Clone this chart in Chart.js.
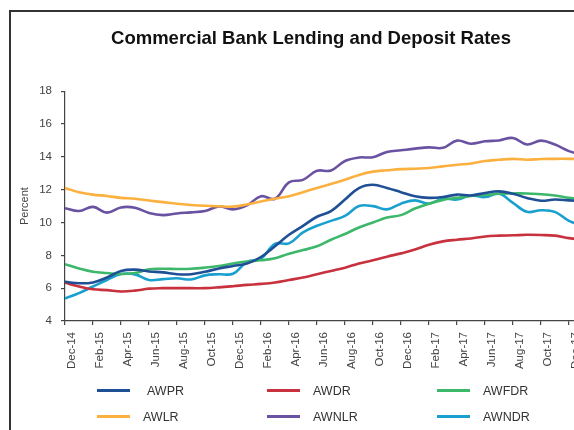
<!DOCTYPE html>
<html>
<head>
<meta charset="utf-8">
<title>Commercial Bank Lending and Deposit Rates</title>
<script src="https://cdn.jsdelivr.net/npm/chart.js@4.4.1/dist/chart.umd.min.js"></script>
<style>
    html, body {
        margin: 0;
        padding: 0;
        background: #fff;
        overflow: hidden;
    }
    .wrap {
        position: relative;
        width: 574px;
        height: 430px;
        overflow: hidden;
    }
    .frame {
        position: absolute;
        left: 9px;
        top: 10px;
        width: 700px;
        height: 500px;
        border-left: 2px solid #333;
        border-top: 2px solid #333;
    }
    #myChart {
        position: absolute;
        left: 0;
        top: 0;
    }
    .leyenda {
        position: absolute;
        font-family: "Liberation Sans", Arial, sans-serif;
        font-size: 12.5px;
        color: #333;
    }
    .leyenda .item {
        position: absolute;
        height: 16px;
        line-height: 16px;
        white-space: nowrap;
    }
    .leyenda .linea {
        position: absolute;
        top: 6px;
        width: 33px;
        height: 3px;
    }
    .leyenda .texto {
        position: absolute;
        top: 0;
    }
</style>
</head>
<body>
<div class="wrap">
    <div class="frame"></div>
    <canvas id="myChart" width="618" height="430"></canvas>
    <div class="leyenda" id="leyenda"></div>
</div>

<script>
/*========== datos ==========*/
var meses = ['Dec-14', 'Jan-15', 'Feb-15', 'Mar-15', 'Apr-15', 'May-15', 'Jun-15', 'Jul-15', 'Aug-15', 'Sep-15', 'Oct-15', 'Nov-15',
    'Dec-15', 'Jan-16', 'Feb-16', 'Mar-16', 'Apr-16', 'May-16', 'Jun-16', 'Jul-16', 'Aug-16', 'Sep-16', 'Oct-16', 'Nov-16',
    'Dec-16', 'Jan-17', 'Feb-17', 'Mar-17', 'Apr-17', 'May-17', 'Jun-17', 'Jul-17', 'Aug-17', 'Sep-17', 'Oct-17', 'Nov-17',
    'Dec-17', 'Jan-18'];

var awpr = [6.39, 6.30, 6.35, 6.65, 7.05, 7.13, 7.02, 6.96, 6.85, 6.85, 7.00, 7.20,
    7.35, 7.50, 7.90, 8.55, 9.25, 9.80, 10.35, 10.70, 11.40, 12.10, 12.30, 12.10,
    11.85, 11.60, 11.50, 11.55, 11.70, 11.65, 11.80, 11.90, 11.75, 11.50, 11.33, 11.40,
    11.35, 11.30];

var awdr = [6.33, 6.10, 5.93, 5.88, 5.80, 5.85, 5.97, 6.00, 6.00, 6.00, 6.00, 6.05,
    6.12, 6.20, 6.26, 6.35, 6.50, 6.65, 6.85, 7.05, 7.25, 7.50, 7.70, 7.92,
    8.12, 8.35, 8.65, 8.85, 8.95, 9.03, 9.15, 9.20, 9.22, 9.25, 9.24, 9.20,
    9.05, 8.95];

var awfdr = [7.46, 7.20, 7.00, 6.92, 6.86, 6.92, 7.15, 7.18, 7.17, 7.18, 7.25, 7.35,
    7.50, 7.62, 7.70, 7.82, 8.10, 8.32, 8.55, 8.95, 9.30, 9.70, 10.00, 10.30,
    10.45, 10.85, 11.15, 11.38, 11.50, 11.62, 11.68, 11.75, 11.77, 11.77, 11.72, 11.65,
    11.50, 11.40];

var awlr = [12.10, 11.85, 11.70, 11.62, 11.50, 11.45, 11.34, 11.24, 11.14, 11.07, 11.02, 10.99,
    10.97, 11.10, 11.28, 11.45, 11.60, 11.85, 12.10, 12.35, 12.60, 12.90, 13.10, 13.18,
    13.25, 13.28, 13.32, 13.42, 13.52, 13.60, 13.75, 13.82, 13.88, 13.82, 13.87, 13.88,
    13.88, 13.88];

var awnlr = [10.87, 10.70, 10.95, 10.60, 10.92, 10.90, 10.58, 10.45, 10.55, 10.62, 10.70, 10.98,
    10.80, 11.05, 11.60, 11.45, 12.45, 12.60, 13.15, 13.17, 13.75, 13.96, 13.98, 14.30,
    14.40, 14.50, 14.58, 14.55, 14.99, 14.80, 14.95, 15.00, 15.15, 14.75, 14.99, 14.75,
    14.35, 14.10];

var awndr = [5.37, 5.70, 6.10, 6.50, 6.86, 6.84, 6.50, 6.55, 6.60, 6.53, 6.78, 6.85,
    6.88, 7.60, 7.80, 8.70, 8.73, 9.40, 9.80, 10.10, 10.40, 11.00, 11.00, 10.80,
    11.15, 11.35, 11.15, 11.45, 11.40, 11.65, 11.55, 11.75, 11.20, 10.65, 10.75, 10.65,
    10.10, 9.80];

var yTicks = [4, 6, 8, 10, 12, 14, 16, 18];

// series en el orden de la leyenda (fila por fila)
var series = [
    { nombre: 'AWPR', datos: awpr, color: '#1f4f95' },
    { nombre: 'AWDR', datos: awdr, color: '#c8313e' },
    { nombre: 'AWFDR', datos: awfdr, color: '#3db86b' },
    { nombre: 'AWLR', datos: awlr, color: '#fbb03f' },
    { nombre: 'AWNLR', datos: awnlr, color: '#6a52a2' },
    { nombre: 'AWNDR', datos: awndr, color: '#1aa0cf' }
];

var fuente = '"Liberation Sans", Arial, Helvetica, sans-serif';

// pasar cada serie a puntos {x: mes, y: tasa}
function puntos(arr) {
    return arr.map(function(v, i) {
        return { x: i, y: v };
    });
}

/*========== grafico ==========*/
var ctx = document.getElementById('myChart').getContext('2d');
var chart = new Chart(ctx, {
    type: 'line',
    data: {
        datasets: series.map(function(s) {
            return {
                label: s.nombre,
                data: puntos(s.datos),
                borderColor: s.color,
                backgroundColor: s.color,
                borderWidth: 2.6,
                pointRadius: 0,
                tension: 0.4,
                fill: false
            };
        })
    },
    options: {
        responsive: false,
        animation: false,
        layout: {
            padding: { left: 14, right: 10, top: 0, bottom: 0 }
        },
        plugins: {
            legend: { display: false },
            tooltip: { enabled: false },
            title: {
                display: true,
                text: 'Commercial Bank Lending and Deposit Rates',
                color: '#111',
                font: { family: fuente, size: 18.5, weight: 'bold' },
                padding: { top: 28, bottom: 41 }
            }
        },
        scales: {
            x: {
                type: 'linear',
                min: 0,
                max: 38.79,
                afterFit: function(scale) {
                    scale.height = 109;
                },
                border: { display: true, color: '#444', width: 1.2 },
                grid: { drawOnChartArea: false, tickLength: 4, color: '#444', lineWidth: 1.2 },
                ticks: {
                    stepSize: 2,
                    includeBounds: false,
                    autoSkip: false,
                    minRotation: 90,
                    maxRotation: 90,
                    padding: 7,
                    labelOffset: 7,
                    color: '#444',
                    font: { family: fuente, size: 11.5 },
                    callback: function(value) {
                        return meses[value] !== undefined ? meses[value] : null;
                    }
                }
            },
            y: {
                min: 4,
                max: 18,
                afterFit: function(scale) {
                    scale.width = 51;
                },
                afterBuildTicks: function(scale) {
                    scale.ticks = yTicks.map(function(v) { return { value: v }; });
                },
                border: { display: true, color: '#444', width: 1.2 },
                grid: { drawOnChartArea: false, tickLength: 4, color: '#444', lineWidth: 1.2 },
                ticks: {
                    padding: 9,
                    color: '#444',
                    font: { family: fuente, size: 11.5 }
                },
                title: {
                    display: true,
                    text: 'Percent',
                    color: '#444',
                    font: { family: fuente, size: 11 },
                    padding: { top: 4, bottom: 4 }
                }
            }
        }
    }
});

/*========== leyenda ==========*/
var colX = [97, 267, 437];
var textoX = [[147, 313, 483], [143, 313, 483]];
var filaY = [383, 409];
var leyenda = document.getElementById('leyenda');

series.forEach(function(s, i) {
    var fila = Math.floor(i / 3);
    var col = i % 3;
    var item = document.createElement('div');
    item.className = 'item';
    item.style.left = '0px';
    item.style.top = filaY[fila] + 'px';

    var linea = document.createElement('div');
    linea.className = 'linea';
    linea.style.left = colX[col] + 'px';
    linea.style.background = s.color;

    var texto = document.createElement('span');
    texto.className = 'texto';
    texto.style.left = textoX[fila][col] + 'px';
    texto.textContent = s.nombre;

    item.appendChild(linea);
    item.appendChild(texto);
    leyenda.appendChild(item);
});
</script>
</body>
</html>
